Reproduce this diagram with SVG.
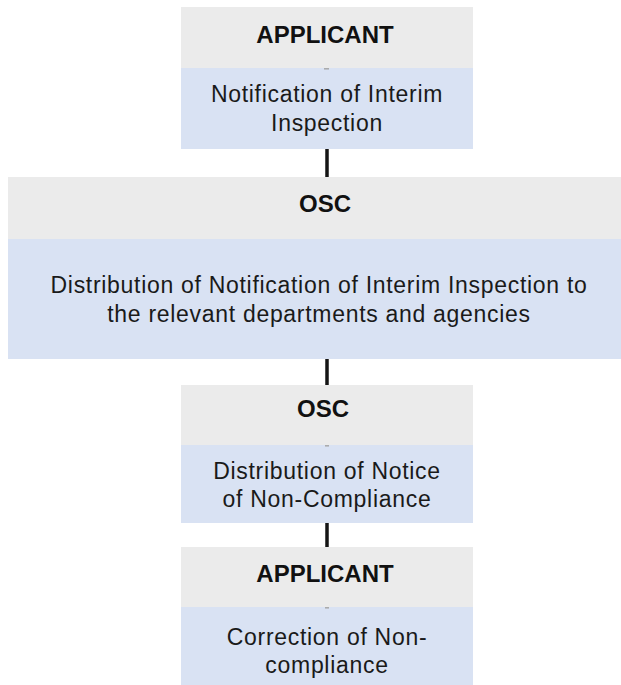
<svg xmlns="http://www.w3.org/2000/svg" width="621" height="685" viewBox="0 0 621 685">
  <style>
    .head { fill: #ebebeb; }
    .body { fill: #d9e2f3; }
    .title { font-family: "Liberation Sans", Arial, sans-serif; font-size: 24px; font-weight: bold; fill: #111111; text-anchor: middle; }
    .txt { font-family: "Liberation Sans", Arial, sans-serif; font-size: 23px; letter-spacing: 0.7px; fill: #1a1a1a; text-anchor: middle; }
    .tick { stroke: #a8a8a8; stroke-width: 1.5; }
    .link { stroke: #151515; stroke-width: 3.5; fill: none; }
  </style>
  <rect width="621" height="685" fill="#ffffff"/>

  <g id="connectors">
    <line class="link" x1="327" y1="149" x2="327" y2="177"/>
    <line class="link" x1="327" y1="359" x2="327" y2="385"/>
    <line class="link" x1="327" y1="523" x2="327" y2="547"/>
  </g>

  <g id="applicant-notification">
    <rect class="head" x="181" y="7" width="292" height="61"/>
    <rect class="body" x="181" y="68" width="292" height="81"/>
    <line class="tick" x1="324" y1="68.8" x2="329" y2="68.8"/>
    <text class="title" x="325" y="43">APPLICANT</text>
    <text class="txt" x="327" y="102">Notification of Interim</text>
    <text class="txt" x="327" y="131">Inspection</text>
  </g>

  <g id="osc-distribution">
    <rect class="head" x="8" y="177" width="613" height="62"/>
    <rect class="body" x="8" y="239" width="613" height="120"/>
    <text class="title" x="325" y="212">OSC</text>
    <text class="txt" x="319" y="293">Distribution of Notification of Interim Inspection to</text>
    <text class="txt" x="319" y="322">the relevant departments and agencies</text>
  </g>

  <g id="osc-notice">
    <rect class="head" x="181" y="385" width="292" height="60"/>
    <rect class="body" x="181" y="445" width="292" height="78"/>
    <line class="tick" x1="325" y1="445.8" x2="329" y2="445.8"/>
    <text class="title" x="323" y="417">OSC</text>
    <text class="txt" x="327" y="479">Distribution of Notice</text>
    <text class="txt" x="327" y="507">of Non-Compliance</text>
  </g>

  <g id="applicant-correction">
    <rect class="head" x="181" y="547" width="292" height="60"/>
    <rect class="body" x="181" y="607" width="292" height="78"/>
    <line class="tick" x1="325" y1="607.8" x2="329" y2="607.8"/>
    <text class="title" x="325" y="582">APPLICANT</text>
    <text class="txt" x="327" y="645">Correction of Non-</text>
    <text class="txt" x="327" y="673">compliance</text>
  </g>
</svg>
